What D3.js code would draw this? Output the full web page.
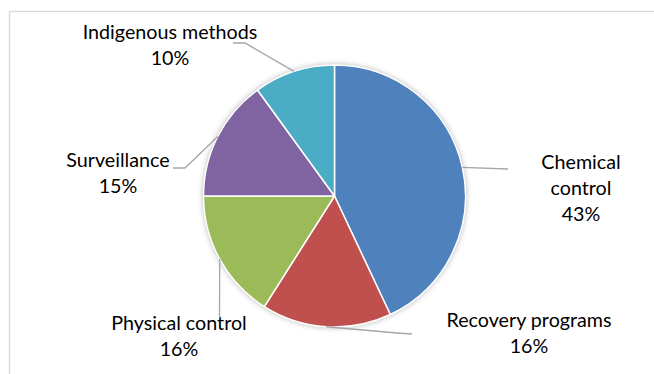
<!DOCTYPE html>
<html><head><meta charset="utf-8">
<script src="https://cdn.jsdelivr.net/npm/d3@7"></script>
<style>html,body{margin:0;padding:0;background:#fff;}svg{display:block;}</style>
</head><body>
<svg id="chart" width="654" height="374"></svg>
<script>
const categories = ["Chemical control", "Recovery programs", "Physical control", "Surveillance", "Indigenous methods"];
const values = [43, 16, 16, 15, 10];
const colors = ["#4F81BD", "#C0504D", "#9BBB59", "#8064A2", "#4BACC6"];
const labelLines = [["Chemical", "control", "43%"], ["Recovery programs", "16%"], ["Physical control", "16%"], ["Surveillance", "15%"], ["Indigenous methods", "10%"]];

// layout (label anchor = center x, first baseline; leader elbow points)
const layout = [
  {lx: 581, ly: 169, path: [[508, 169]]},
  {lx: 529, ly: 327, path: [[397, 333], [412, 334]]},
  {lx: 179, ly: 330, path: [[219.5, 317]]},
  {lx: 118, ly: 167, path: [[185, 168], [173, 168]]},
  {lx: 170, ly: 39, path: [[245, 43], [233, 43]]}
];

const svg = d3.select("#chart");
const cx = 334.5, cy = 196, R = 131;

svg.append("rect").attr("x", 9.5).attr("y", 11.5).attr("width", 700).attr("height", 420)
  .attr("fill", "#fff").attr("stroke", "#d9d9d9").attr("stroke-width", 1.3);

const defs = svg.append("defs");
const f = defs.append("filter").attr("id", "glow").attr("x", "-20%").attr("y", "-20%").attr("width", "140%").attr("height", "140%");
f.append("feGaussianBlur").attr("in", "SourceAlpha").attr("stdDeviation", 3).attr("result", "b");
f.append("feComponentTransfer").attr("in", "b").attr("result", "c")
  .append("feFuncA").attr("type", "linear").attr("slope", 0.35);
const m = f.append("feMerge");
m.append("feMergeNode").attr("in", "c");
m.append("feMergeNode").attr("in", "SourceGraphic");

const pie = d3.pie().sort(null).value(d => d)(values);
const arc = d3.arc().innerRadius(0).outerRadius(R);

const g = svg.append("g").attr("transform", `translate(${cx},${cy})`);
g.append("circle").attr("r", R).attr("fill", "#fff").attr("filter", "url(#glow)");
g.selectAll("path.slice").data(pie).join("path").attr("class", "slice")
  .attr("d", arc).attr("fill", (d, i) => colors[i])
  .attr("stroke", "#fff").attr("stroke-width", 1.5).attr("stroke-linejoin", "round");

// leader lines
pie.forEach((d, i) => {
  const a = (d.startAngle + d.endAngle) / 2;
  const start = [cx + R * Math.sin(a), cy - R * Math.cos(a)];
  const pts = [start].concat(layout[i].path);
  svg.append("path").attr("d", d3.line()(pts)).attr("fill", "none")
    .attr("stroke", "#a6a6a6").attr("stroke-width", 1.3);
});

// labels
const fontSize = 19.7;
pie.forEach((d, i) => {
  const t = svg.append("text").attr("text-anchor", "middle")
    .attr("font-family", "Lato, 'Open Sans', sans-serif").attr("font-size", fontSize).attr("fill", "#000");
  labelLines[i].forEach((s, k) => {
    t.append("tspan").attr("x", layout[i].lx).attr("y", layout[i].ly + k * 26).text(s);
  });
});
</script>
</body></html>
